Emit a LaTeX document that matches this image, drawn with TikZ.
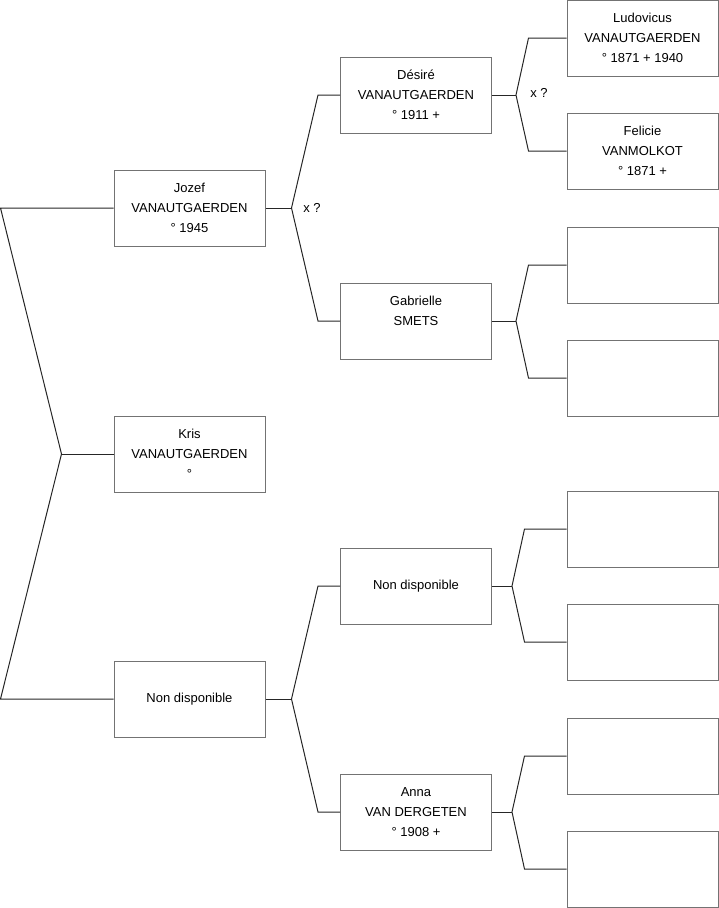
\documentclass[tikz,border=0pt]{standalone}
\usepackage{fontspec}
\setmainfont{Liberation Sans}
\usepackage{tikz}
\usetikzlibrary{calc,positioning}
\tikzset{
  persona/.style={draw=black!55,line width=1pt,minimum width=151pt,minimum height=76pt,inner sep=0pt,align=center,font=\fontsize{13}{20}\selectfont},
  rama/.style={draw=black!85,line width=1pt},
  etiq/.style={font=\fontsize{13}{20}\selectfont,inner sep=0pt}
}

\begin{document}
\begin{tikzpicture}[x=1pt,y=-1pt]
\useasboundingbox (0,0) rectangle (719,908);
% generacion 1
\node[persona] (jozef) at (189.5,208) {Jozef\\VANAUTGAERDEN\\° 1945};
\node[persona] (kris) at (189.5,454) {Kris\\VANAUTGAERDEN\\°};
\node[persona] (madre) at (189.5,699) {Non disponible};
% generacion 2
\node[persona] (desire) at (416,95) {Désiré\\VANAUTGAERDEN\\° 1911 +};
\node[persona] (gabrielle) at (416,321) {Gabrielle\\SMETS\\\mbox{}};
\node[persona] (abuelo) at (416,586) {Non disponible};
\node[persona] (anna) at (416,812) {Anna\\VAN DERGETEN\\° 1908 +};
% generacion 3
\node[persona] (ludovicus) at (642.5,38) {Ludovicus\\VANAUTGAERDEN\\° 1871 + 1940};
\node[persona] (felicie) at (642.5,151) {Felicie\\VANMOLKOT\\° 1871 +};
\node[persona] (g3a) at (642.5,265) {};
\node[persona] (g3b) at (642.5,378) {};
\node[persona] (g3c) at (642.5,529) {};
\node[persona] (g3d) at (642.5,642) {};
\node[persona] (g3e) at (642.5,756) {};
\node[persona] (g3f) at (642.5,869) {};
% ramas
\coordinate (vk) at ([xshift=-52pt]kris.west);
\draw[rama] (jozef.west) -- ([xshift=-113pt]jozef.west) -- (vk) -- ([xshift=-113pt]madre.west) -- (madre.west);
\draw[rama] (vk) -- (kris.west);

\coordinate (vj) at ([xshift=26pt]jozef.east);
\draw[rama] (desire.west) -- ([xshift=-22pt]desire.west) -- (vj) -- ([xshift=-22pt]gabrielle.west) -- (gabrielle.west);
\draw[rama] (jozef.east) -- (vj);
\node[etiq] (xj) at (312,208) {x ?};

\coordinate (vm) at ([xshift=26pt]madre.east);
\draw[rama] (abuelo.west) -- ([xshift=-22pt]abuelo.west) -- (vm) -- ([xshift=-22pt]anna.west) -- (anna.west);
\draw[rama] (madre.east) -- (vm);

\coordinate (vd) at ([xshift=24pt]desire.east);
\draw[rama] (ludovicus.west) -- ([xshift=-38pt]ludovicus.west) -- (vd) -- ([xshift=-38pt]felicie.west) -- (felicie.west);
\draw[rama] (desire.east) -- (vd);
\node[etiq] (xd) at (539,93) {x ?};

\coordinate (vg) at ([xshift=24pt]gabrielle.east);
\draw[rama] (g3a.west) -- ([xshift=-38pt]g3a.west) -- (vg) -- ([xshift=-38pt]g3b.west) -- (g3b.west);
\draw[rama] (gabrielle.east) -- (vg);

\coordinate (va) at ([xshift=20pt]abuelo.east);
\draw[rama] (g3c.west) -- ([xshift=-42pt]g3c.west) -- (va) -- ([xshift=-42pt]g3d.west) -- (g3d.west);
\draw[rama] (abuelo.east) -- (va);

\coordinate (vn) at ([xshift=20pt]anna.east);
\draw[rama] (g3e.west) -- ([xshift=-42pt]g3e.west) -- (vn) -- ([xshift=-42pt]g3f.west) -- (g3f.west);
\draw[rama] (anna.east) -- (vn);
\end{tikzpicture}
\end{document}
